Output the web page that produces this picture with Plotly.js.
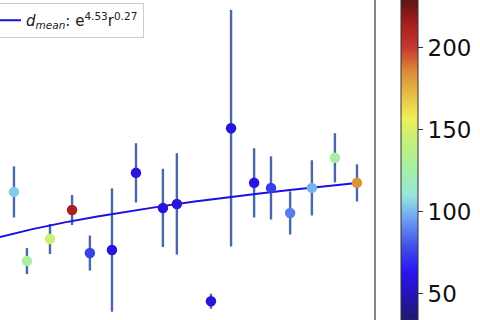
<!DOCTYPE html>
<html>
<head>
<meta charset="utf-8">
<script src="https://cdn.plot.ly/plotly-3.0.1.min.js"></script>
<style>
html,body{margin:0;padding:0;background:#fff;}
#chart{width:480px;height:320px;}
</style>
</head>
<body>
<div id="chart"></div>
<script>
// Data (x = r, y = d, colour value c, symmetric error)
const rValues   = [44.3, 48.3, 55.4, 62.2, 67.7, 74.5, 81.9, 90.2, 94.5, 105.0, 111.2, 118.3, 123.5, 129.4, 136.1, 143.2, 150.0];
const dValues   = [341, 203, 247, 305, 219, 225, 379, 309, 317, 123, 468, 359, 349, 299, 349, 409, 359];
const dErrors   = [51, 26, 30, 30, 35, 123, 59, 78, 101, 15, 236, 69, 63, 43, 55, 49, 37];
const colorVals = [104, 127, 148, 213, 75, 58, 58, 58, 58, 58, 59, 60, 74, 88, 99, 127, 183];
const cbTicks   = [50, 100, 150, 200];

// Fit parameters shown in the legend: d_mean = e^a * r^b
const fitA = 4.53, fitB = 0.27;
const fitR = [30, 40, 50, 60, 70, 80, 90, 100, 110, 120, 130, 140, 150];
const fitD = fitR.map(r => Math.exp(fitA) * Math.pow(r, fitB));

const scale = [
  [0.00, '#1e1a6c'], [0.08, '#2414b8'], [0.15, '#2a14f0'], [0.22, '#3c48e8'],
  [0.30, '#6490f0'], [0.34, '#7cb8f0'], [0.39, '#96e6dc'], [0.47, '#a4f0a4'],
  [0.58, '#ccf070'], [0.63, '#f0f058'], [0.70, '#e8c048'], [0.78, '#d88838'],
  [0.85, '#c83830'], [0.92, '#a82020'], [1.00, '#601410']
];

const traces = [
  { x: rValues, y: dValues, type: 'scatter', mode: 'markers',
    marker: {size: 1, color: 'rgba(0,0,0,0)'},
    error_y: {type: 'data', array: dErrors, visible: true, color: '#4a68a8', thickness: 2.4, width: 0},
    showlegend: false, hoverinfo: 'skip' },
  { x: fitR, y: fitD, type: 'scatter', mode: 'lines',
    line: {color: '#1a10e6', width: 2},
    name: '<i>d</i><sub><i>mean</i></sub>: e<sup>4.53</sup>r<sup>0.27</sup>',
    showlegend: true },
  { x: rValues, y: dValues, type: 'scatter', mode: 'markers',
    marker: {size: 10.5, color: colorVals, colorscale: scale, cmin: 34, cmax: 229,
      line: {width: 0},
      showscale: true,
      colorbar: {
        xref: 'container', x: 401/480, xanchor: 'left', xpad: 0,
        yref: 'container', y: 0.5, yanchor: 'middle', ypad: 0,
        thickness: 17, lenmode: 'pixels', len: 320,
        outlinewidth: 1, outlinecolor: '#333',
        tickvals: cbTicks, ticks: 'outside', ticklen: 5, tickwidth: 1.3, tickcolor: '#333',
        tickfont: {family: 'DejaVu Sans', size: 23, color: '#111'}
      }},
    showlegend: false }
];

const layout = {
  width: 480, height: 320,
  margin: {l: 0, r: 105, t: 0, b: 0, pad: 0, autoexpand: false},
  paper_bgcolor: '#fff', plot_bgcolor: '#fff',
  font: {family: 'DejaVu Sans', color: '#111'},
  xaxis: {range: [40, 155.55], showgrid: false, zeroline: false, showticklabels: false, ticks: '', showline: false},
  yaxis: {range: [85.5, 723.7], showgrid: false, zeroline: false, showticklabels: false, ticks: '', showline: false},
  showlegend: true,
  legend: {
    x: -22/375, xanchor: 'left', y: 1 - 3/320, yanchor: 'top',
    itemwidth: 37,
    bgcolor: 'rgba(255,255,255,0.9)', bordercolor: '#cccccc', borderwidth: 1,
    font: {family: 'DejaVu Sans', size: 15, color: '#222'}
  },
  shapes: [
    {type: 'line', xref: 'paper', yref: 'paper', x0: 1, x1: 1, y0: 0, y1: 1,
     line: {color: '#444', width: 1.3}}
  ]
};

Plotly.newPlot('chart', traces, layout, {staticPlot: true, displayModeBar: false});
</script>
</body>
</html>
